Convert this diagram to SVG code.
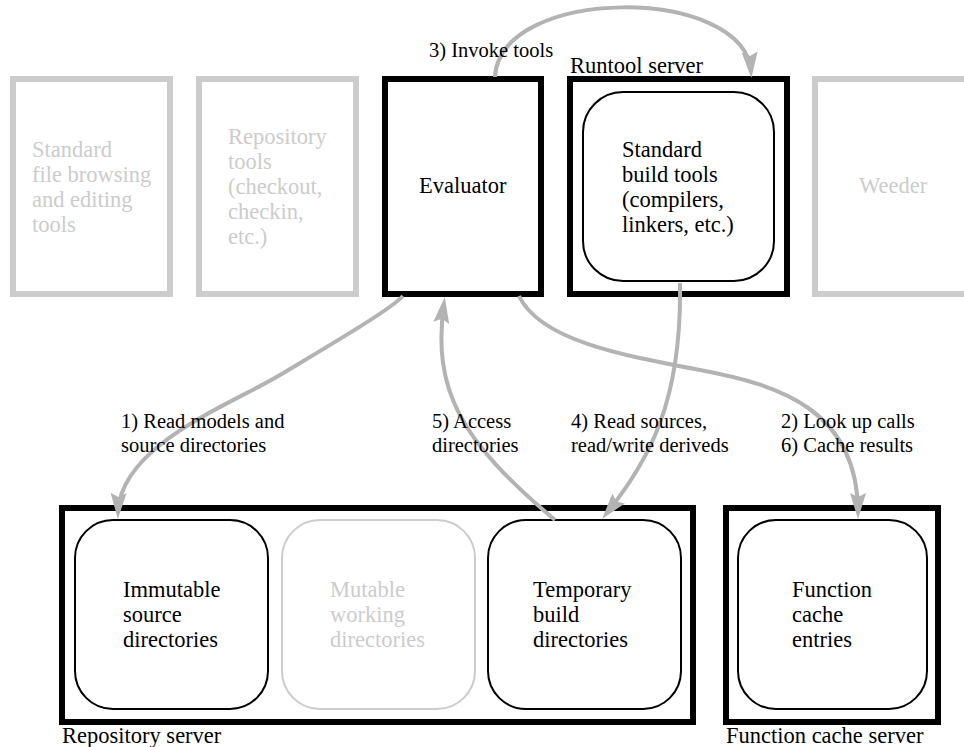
<svg xmlns="http://www.w3.org/2000/svg" width="964" height="747" viewBox="0 0 964 747">
<style>
  .n { font-family: Liberation Serif; font-size: 22.5px; fill: #000; }
  .ng { font-family: Liberation Serif; font-size: 22.5px; fill: #cccccc; }
  .lbl { font-family: Liberation Serif; font-size: 20.5px; fill: #000; }
  .box { fill: #fff; stroke: #000; stroke-width: 6; }
  .boxg { fill: #fff; stroke: #cccccc; stroke-width: 6; }
  .rr { fill: #fff; stroke: #000; stroke-width: 2; }
  .rrg { fill: #fff; stroke: #cccccc; stroke-width: 2; }
  .edge { fill: none; stroke: #b3b3b3; stroke-width: 4; marker-end: url(#ah); }
</style>
<defs>
  <marker id="ah" viewBox="0 0 26 16" markerWidth="26" markerHeight="16" refX="20" refY="8" orient="auto" markerUnits="userSpaceOnUse">
    <path d="M0,0 L26,8 L0,16 L4,8 z" fill="#b3b3b3"/>
  </marker>
</defs>
<rect width="964" height="747" fill="#fff"/>

<g id="std-file-tools">
  <rect class="boxg" x="13" y="79" width="157" height="215"/>
  <text class="ng" x="32" y="157">Standard</text>
  <text class="ng" x="32" y="182">file browsing</text>
  <text class="ng" x="32" y="207">and editing</text>
  <text class="ng" x="32" y="232">tools</text>
</g>
<g id="repository-tools">
  <rect class="boxg" x="199" y="79" width="157" height="215"/>
  <text class="ng" x="228" y="144">Repository</text>
  <text class="ng" x="228" y="169">tools</text>
  <text class="ng" x="228" y="194">(checkout,</text>
  <text class="ng" x="228" y="219">checkin,</text>
  <text class="ng" x="228" y="244">etc.)</text>
</g>
<g id="evaluator">
  <rect class="box" x="385" y="79" width="156" height="215"/>
  <text class="n" x="419" y="193">Evaluator</text>
</g>
<g id="runtool-server">
  <rect class="box" x="570" y="79" width="217" height="215"/>
  <text class="n" x="570" y="73">Runtool server</text>
</g>
<g id="standard-build-tools">
  <rect class="rr" x="583" y="92" width="191" height="189" rx="40" ry="40"/>
  <text class="n" x="622" y="157">Standard</text>
  <text class="n" x="622" y="182">build tools</text>
  <text class="n" x="622" y="207">(compilers,</text>
  <text class="n" x="622" y="232">linkers, etc.)</text>
</g>
<g id="weeder">
  <rect class="boxg" x="815" y="79" width="160" height="215"/>
  <text class="ng" x="859" y="193">Weeder</text>
</g>

<g id="repository-server">
  <rect class="box" x="62" y="508" width="631" height="214"/>
  <text class="n" x="62" y="743">Repository server</text>
</g>
<g id="immutable-source">
  <rect class="rr" x="75" y="520" width="193" height="189" rx="38" ry="38"/>
  <text class="n" x="123" y="597">Immutable</text>
  <text class="n" x="123" y="622">source</text>
  <text class="n" x="123" y="647">directories</text>
</g>
<g id="mutable-working">
  <rect class="rrg" x="282" y="520" width="193" height="189" rx="38" ry="38"/>
  <text class="ng" x="330" y="597">Mutable</text>
  <text class="ng" x="330" y="622">working</text>
  <text class="ng" x="330" y="647">directories</text>
</g>
<g id="temporary-build">
  <rect class="rr" x="488" y="520" width="193" height="189" rx="38" ry="38"/>
  <text class="n" x="533" y="597">Temporary</text>
  <text class="n" x="533" y="622">build</text>
  <text class="n" x="533" y="647">directories</text>
</g>
<g id="function-cache-server">
  <rect class="box" x="726" y="508" width="212" height="214"/>
  <text class="n" x="726" y="743">Function cache server</text>
</g>
<g id="function-cache-entries">
  <rect class="rr" x="738" y="520" width="189" height="189" rx="38" ry="38"/>
  <text class="n" x="792" y="597">Function</text>
  <text class="n" x="792" y="622">cache</text>
  <text class="n" x="792" y="647">entries</text>
</g>

<g id="connectors">
  <path class="edge" d="M495,77 C500,-15 745,-15 751,72"/>
  <path class="edge" d="M403,296 C390,310 330,345 280,375 S120,445 118,513"/>
  <path class="edge" d="M555,520 C460,440 432,390 444,303"/>
  <path class="edge" d="M680,283 C682,400 650,460 606,514"/>
  <path class="edge" d="M519,296 C540,340 620,355 700,370 S858,410 858,513"/>
  <text class="lbl" x="429" y="57">3) Invoke tools</text>
  <text class="lbl" x="121" y="428">1) Read models and</text>
  <text class="lbl" x="121" y="452">source directories</text>
  <text class="lbl" x="432" y="428">5) Access</text>
  <text class="lbl" x="432" y="452">directories</text>
  <text class="lbl" x="571" y="428">4) Read sources,</text>
  <text class="lbl" x="571" y="452">read/write deriveds</text>
  <text class="lbl" x="781" y="428">2) Look up calls</text>
  <text class="lbl" x="781" y="452">6) Cache results</text>
</g>
</svg>
